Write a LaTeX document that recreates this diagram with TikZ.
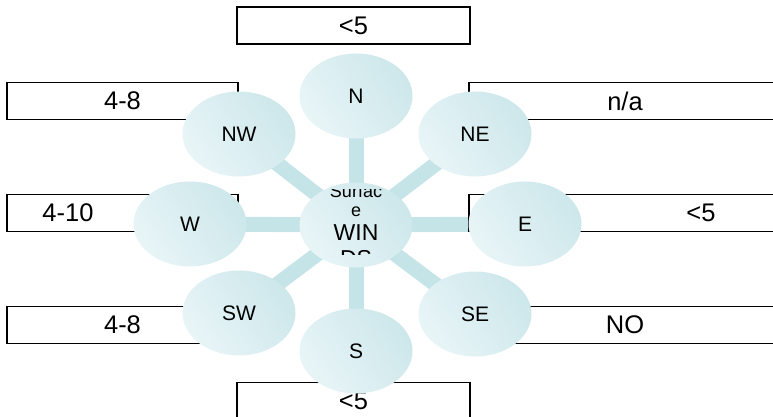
\documentclass[tikz,border=0pt]{standalone}
\usepackage{fontspec}
\setmainfont{Liberation Sans}
\usetikzlibrary{shapes.geometric,backgrounds}
\definecolor{windhi}{RGB}{232,245,247}
\definecolor{windlo}{RGB}{205,231,235}
\definecolor{spokecol}{RGB}{197,228,232}

\begin{document}
\begin{tikzpicture}[x=1pt,y=-1pt,
				valbox/.style={rectangle,draw,line width=1.8pt,inner sep=0pt,
									minimum height=37pt},
				valtxt/.style={inner sep=0pt,font=\fontsize{25.5}{30}\selectfont},
				blob/.style={ellipse,inner sep=0pt,minimum width=113pt,
									minimum height=85pt,left color=windhi,right color=windlo,
									shading angle=125,font=\fontsize{21}{25}\selectfont},
				spoke/.style={line width=15pt,spokecol}]
\useasboundingbox (0,0) rectangle (773,417);
\clip (0,0) rectangle (773,417);

	\node[valbox,minimum width=233pt] (bN) at (353.5,25.5) {};
	\node[valbox,minimum width=231pt] (bNW) at (122.5,101) {};
	\node[valbox,minimum width=231pt] (bW) at (122.5,213) {};
	\node[valbox,minimum width=231pt] (bSW) at (122.5,325) {};
	\node[valbox,minimum width=312pt] (bNE) at (625,101) {};
	\node[valbox,minimum width=312pt] (bE) at (625,213) {};
	\node[valbox,minimum width=312pt] (bSE) at (625,325) {};
	\node[valbox,minimum width=233pt] (bS) at (353.5,401) {};

	\node[valtxt] (tN) at (bN) {<5};
	\node[valtxt] (tNW) at (bNW) {4-8};
	\node[valtxt] (tW) at (68,213) {4-10};
	\node[valtxt] (tSW) at (bSW) {4-8};
	\node[valtxt] (tNE) at (bNE) {n/a};
	\node[valtxt] (tE) at (701,213) {<5};
	\node[valtxt] (tSE) at (bSE) {NO};
	\node[valtxt] (tS) at (bS) {<5};

	\node[blob] (n) at (356,96) {N};
	\node[blob] (nw) at (239,134) {NW};
	\node[blob] (ne) at (475,134) {NE};
	\node[blob] (w) at (190,224) {W};
	\node[blob] (e) at (525,224) {E};
	\node[blob] (sw) at (239,313) {SW};
	\node[blob] (se) at (475,314) {SE};
	\node[blob] (s) at (356,351) {S};
	\node[blob] (wind) at (356,225) {};

  \begin{scope}
	\clip (300,189) rectangle (413,254);
	\node[anchor=base,inner sep=0pt,font=\fontsize{18}{21}\selectfont] (windA) at (356,197) {Surfac};
	\node[anchor=base,inner sep=0pt,font=\fontsize{18}{21}\selectfont] (windB) at (356,216) {e};
	\node[anchor=base,inner sep=0pt,font=\fontsize{23}{27}\selectfont] (windC) at (356,240) {WIN};
	\node[anchor=base,inner sep=0pt,font=\fontsize{23}{27}\selectfont] (windD) at (356,266) {DS};
  \end{scope}

  \begin{scope}[on background layer]
	\foreach \dir in {n,nw,ne,w,e,sw,se,s}
	  \draw[spoke] (wind.center) -- (\dir.center);
  \end{scope}
\end{tikzpicture}
\end{document}
